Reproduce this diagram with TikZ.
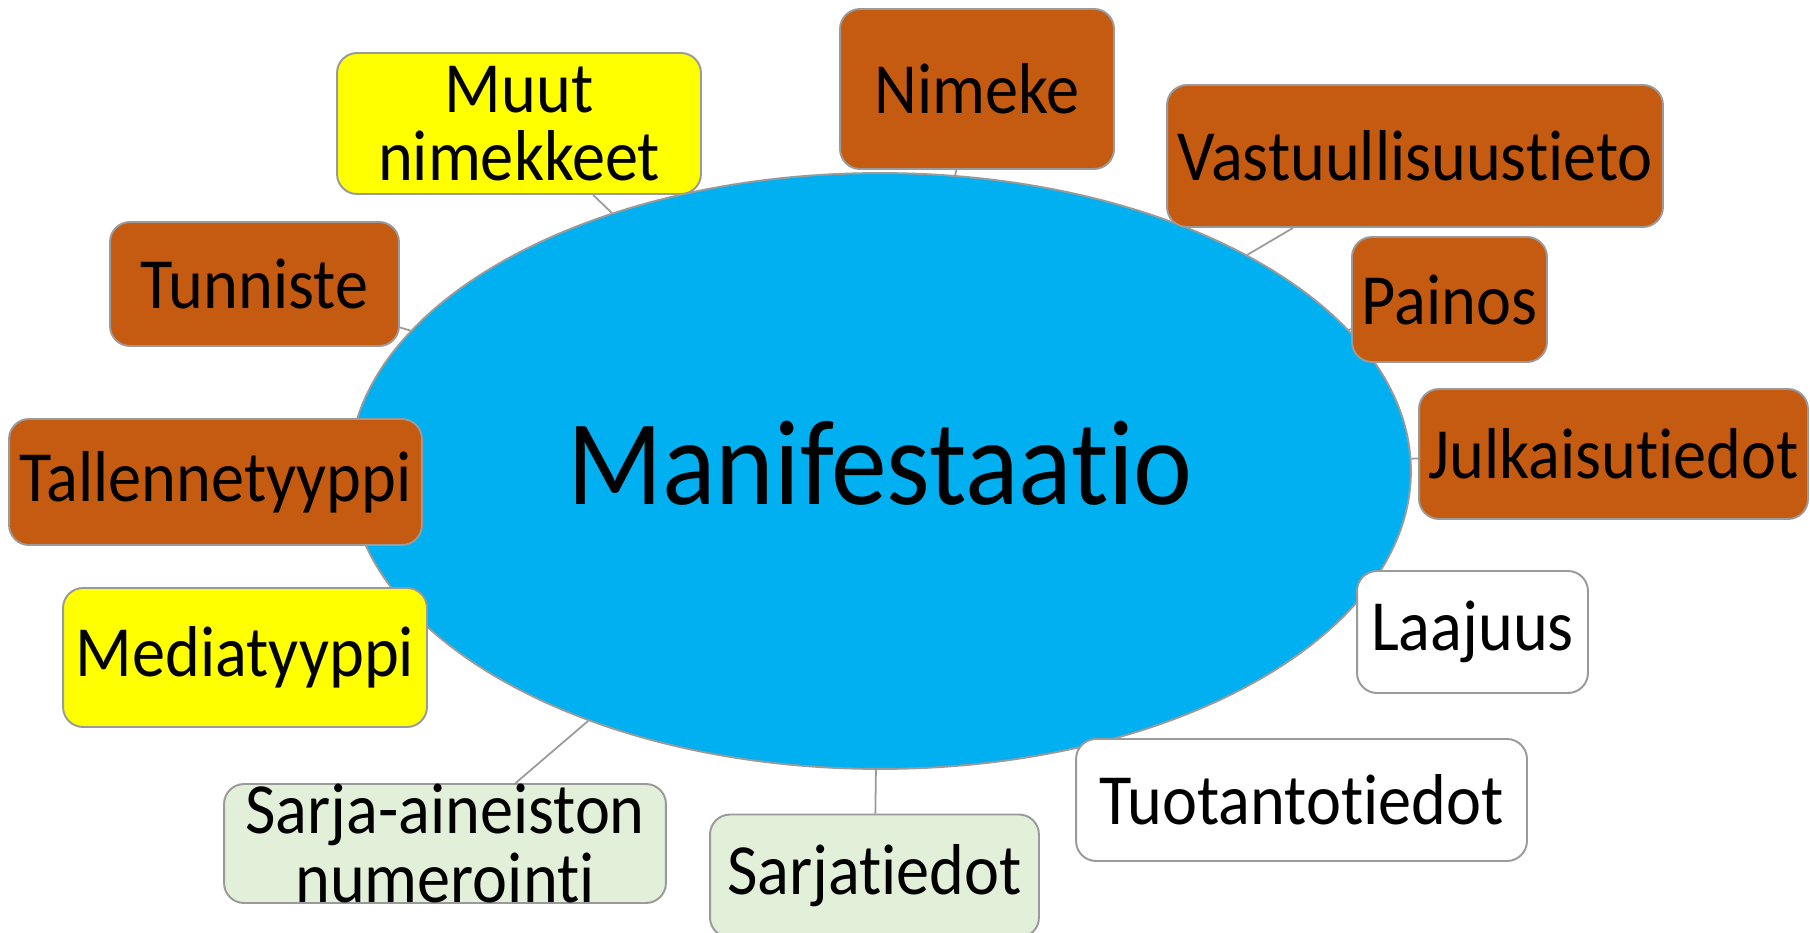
\documentclass[tikz,border=0pt]{standalone}
\usepackage{fontspec}
\setmainfont{Carlito}[FakeStretch=0.92,Ligatures=NoCommon]
\usetikzlibrary{positioning,shapes.geometric,backgrounds}
\definecolor{manifblue}{HTML}{00B0F0}
\definecolor{attrbrown}{HTML}{C55A11}
\definecolor{attryellow}{HTML}{FFFF00}
\definecolor{attrgreen}{HTML}{E2EFD9}
\definecolor{edgegray}{HTML}{9A9A9A}
\tikzset{
    radial/.style={x=0.02cm,y=-0.02cm,line width=1.1pt},
    manif/.style={ellipse,draw=edgegray,fill=manifblue,inner sep=0pt},
    attr/.style={rectangle,rounded corners=0.4cm,draw=edgegray,align=center,
                 inner sep=0pt,font=\fontsize{41}{39}\selectfont},
    battr/.style={attr,fill=attrbrown},
    yattr/.style={attr,fill=attryellow},
    gattr/.style={attr,fill=attrgreen},
    wattr/.style={attr,fill=white},
    link/.style={draw=edgegray,line width=1pt},
    }
\begin{document}
\begin{tikzpicture}[radial]
            \useasboundingbox (0,0) rectangle (1810,933);
            \node[manif] (m) [minimum width=21.24cm, minimum height=11.92cm,
                label={[font=\fontsize{69}{69}\selectfont,yshift=0.15cm]center:Manifestaatio}] at (880,471) {};

            \node[yattr] (muut) [minimum width=7.28cm, minimum height=2.82cm] at (519,123.5) {Muut\\nimekkeet};
            \node[battr] (nimeke) [minimum width=5.48cm, minimum height=3.2cm] at (977,89) {Nimeke};
            \node[battr] (vastuu) [minimum width=9.92cm, minimum height=2.84cm] at (1415,156) {Vastuullisuustieto};
            \node[battr] (painos) [minimum width=3.9cm, minimum height=2.5cm] at (1449.5,299.5) {Painos};
            \node[battr] (julk) [minimum width=7.78cm, minimum height=2.6cm] at (1613.5,454) {Julkaisutiedot};
            \node[wattr] (laaj) [minimum width=4.62cm, minimum height=2.44cm] at (1472.5,632) {Laajuus};
            \node[wattr] (tuot) [minimum width=9.02cm, minimum height=2.44cm] at (1301.5,800) {Tuotantotiedot};
            \node[gattr] (sarjat) [minimum width=6.58cm, minimum height=2.46cm] at (874.5,876) {Sarjatiedot};
            \node[gattr] (sarjan) [minimum width=8.84cm, minimum height=2.38cm] at (445,843.5) {Sarja-aineiston\\numerointi};
            \node[yattr] (media) [minimum width=7.28cm, minimum height=2.78cm] at (245,657.5) {Mediatyyppi};
            \node[battr] (tall) [minimum width=8.26cm, minimum height=2.52cm] at (215.5,482) {Tallennetyyppi};
            \node[battr] (tunn) [minimum width=5.78cm, minimum height=2.48cm] at (254.5,284) {Tunniste};

            \begin{scope}[on background layer]
            \path[link] (m) edge[] (muut);
            \path[link] (m) edge[] (nimeke);
            \path[link] (m) edge[] (vastuu);
            \path[link] (m) edge[] (painos);
            \path[link] (m) edge[] (julk);
            \path[link] (m) edge[] (laaj);
            \path[link] (m) edge[] (sarjat);
            \path[link] (m) edge[] (sarjan);
            \path[link] (m) edge[] (media);
            \path[link] (m) edge[] (tall);
            \path[link] (m) edge[] (tunn);
            \end{scope}
        \end{tikzpicture}
\end{document}
